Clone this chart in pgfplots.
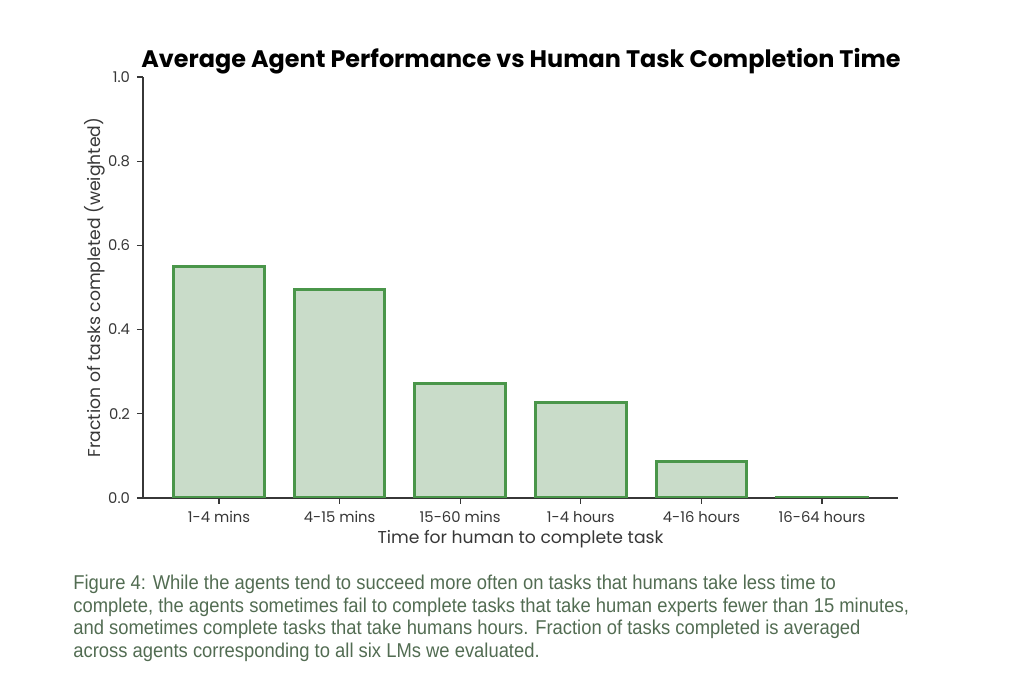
\documentclass[border=0pt]{standalone}
\usepackage{fontspec}
\setmainfont{Poppins}
\newfontfamily\capfont[FakeStretch=0.92]{Liberation Sans}
\usepackage{pgfplots}
\pgfplotsset{compat=1.18}
\definecolor{barfill}{RGB}{201,220,201}
\definecolor{baredge}{RGB}{74,150,74}
\definecolor{spine}{RGB}{55,55,55}
\definecolor{captxt}{RGB}{82,108,82}
\pgfplotstableread{
x y
0 0.551
1 0.496
2 0.271
3 0.226
4 0.087
5 0.002
}\bardata
\begin{document}
\begin{tikzpicture}[x=0.5pt,y=0.5pt]
\path[use as bounding box] (0,0) rectangle (1024,680);
\begin{axis}[
  at={(71.5pt,91pt)}, anchor=south west,
  scale only axis, width=377.5pt, height=210.5pt,
  xmin=-0.63, xmax=5.63, ymin=0, ymax=1,
  axis lines*=left,
  axis line style={spine, line width=0.75pt},
  tick style={spine, line width=0.6pt},
  tick align=outside, major tick length=3pt,
  xtick={0,...,5},
  xticklabels={1-4 mins,4-15 mins,15-60 mins,1-4 hours,4-16 hours,16-64 hours},
  ytick={0,0.2,...,1.0},
  yticklabel style={/pgf/number format/.cd,fixed,fixed zerofill,precision=1},
  /pgf/number format/assume math mode=true,
  ticklabel style={font=\fontsize{7.4}{8.5}\selectfont, text=spine},
  xlabel={Time for human to complete task},
  ylabel={Fraction of tasks completed (weighted)},
  label style={font=\fontsize{8.6}{10}\selectfont, text=spine},
  xlabel style={yshift=3pt},
  ylabel style={yshift=-5.5pt},
]
\addplot[ybar, bar width=0.75, fill=barfill, draw=baredge, line width=1.5pt] table[x=x,y=y] {\bardata};
\end{axis}
\node[anchor=base, font=\fontsize{11.95}{14}\selectfont\bfseries, text=black] at (521,680-68) {Average Agent Performance vs Human Task Completion Time};
\begin{scope}[every node/.style={anchor=base west, inner sep=0pt, font=\capfont\fontsize{10}{12}\selectfont, text=captxt}]
\node at (73,680-590) {Figure 4: While the agents tend to succeed more often on tasks that humans take less time to};
\node at (73,680-612.5) {complete, the agents sometimes fail to complete tasks that take human experts fewer than 15 minutes,};
\node at (73,680-635) {and sometimes complete tasks that take humans hours. Fraction of tasks completed is averaged};
\node at (73,680-657.5) {across agents corresponding to all six LMs we evaluated.};
\end{scope}
\end{tikzpicture}
\end{document}
